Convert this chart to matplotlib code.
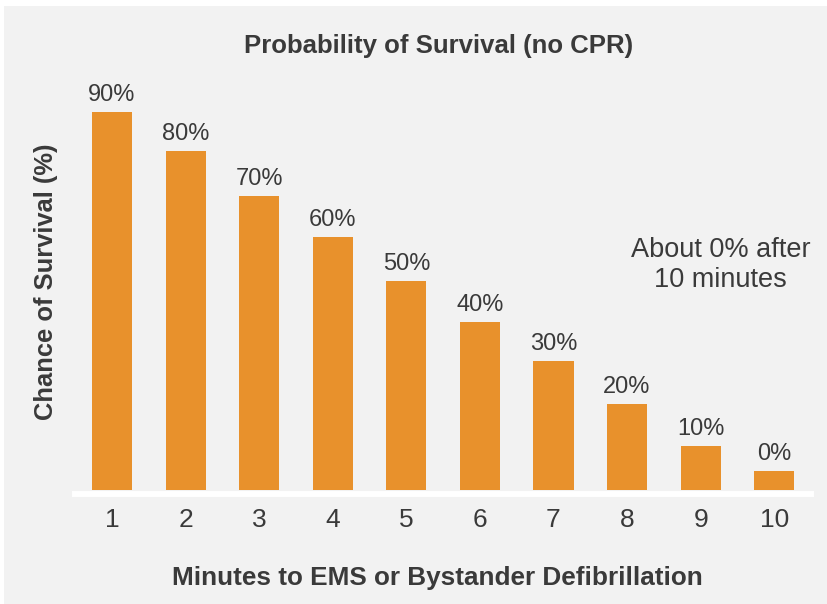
import matplotlib.pyplot as plt
from matplotlib.patches import Rectangle

plt.rcParams['font.family'] = ['Liberation Sans', 'DejaVu Sans']

minutes = [1, 2, 3, 4, 5, 6, 7, 8, 9, 10]
survival_pct = [90, 80, 70, 60, 50, 40, 30, 20, 10, 0]
# drawn bar heights (the 0% bar is drawn as a small stub)
bar_heights = [90, 80.8, 70, 60.2, 49.8, 40, 30.7, 20.4, 10.5, 4.6]

title = 'Probability of Survival (no CPR)'
x_label = 'Minutes to EMS or Bystander Defibrillation'
y_label = 'Chance of Survival (%)'
note = 'About 0% after\n10 minutes'

bar_color = '#E8912C'
text_color = '#3a3a3a'
bg_color = '#f2f2f2'

W, H = 828, 604
fig = plt.figure(figsize=(W / 100, H / 100), dpi=100, facecolor='white')
fig.patches.append(Rectangle((4 / W, -0.05), 1.1, 1.05 - 6 / H, transform=fig.transFigure,
                             facecolor=bg_color, edgecolor='none', zorder=-1))

ax = fig.add_axes([75.2 / W, (H - 490) / H, 735.8 / W, 420 / H])
ax.set_facecolor('none')
ax.bar(minutes, bar_heights, width=0.545, color=bar_color, zorder=3)
ax.set_xlim(0.5, 10.5)
ax.set_ylim(0, 100)

for m, h, p in zip(minutes, bar_heights, survival_pct):
    ax.annotate(f'{p}%', (m, h), xytext=(0, 8), textcoords='offset points',
                ha='center', va='baseline', fontsize=17, color=text_color)

for side in ['top', 'left', 'right']:
    ax.spines[side].set_visible(False)
ax.spines['bottom'].set_color('white')
ax.spines['bottom'].set_linewidth(4.3)
ax.spines['bottom'].set_position(('outward', 2.7))
ax.set_xticks(minutes)
ax.set_xticklabels([str(m) for m in minutes])
ax.set_yticks([])
ax.tick_params(axis='x', length=0, pad=10, labelsize=19, labelcolor=text_color)

fig.text(438.5 / W, 1 - 53 / H, title, ha='center', va='baseline',
         fontsize=18.5, fontweight='bold', color=text_color)
fig.text(437.5 / W, 1 - 585 / H, x_label, ha='center', va='baseline',
         fontsize=18.8, fontweight='bold', color=text_color)
fig.text(53 / W, 1 - 281.5 / H, y_label, ha='center', va='baseline', rotation=90,
         rotation_mode='anchor', fontsize=18.4, fontweight='bold', color=text_color)
fig.text(720.5 / W, 1 - 264.9 / H, note, ha='center', va='center',
         multialignment='center', fontsize=19.5, color=text_color)

fig.savefig('out.png', dpi=100, facecolor=fig.get_facecolor())
